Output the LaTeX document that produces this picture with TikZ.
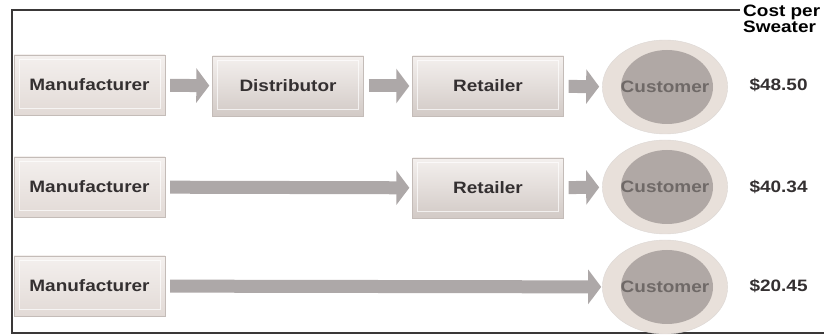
\documentclass[tikz,border=0pt]{standalone}
\usepackage{fontspec}
\setmainfont{Liberation Sans}[FakeStretch=1.15]
\usetikzlibrary{shapes.geometric,arrows.meta}
\definecolor{boxlight}{HTML}{F4F0EE}
\definecolor{boxmid}{HTML}{E2DAD6}
\definecolor{boxdark}{HTML}{D2CAC6}
\definecolor{boxedge}{HTML}{C4BCB8}
\definecolor{ringfill}{HTML}{E8E0DA}
\definecolor{corefill}{HTML}{B0A8A5}
\definecolor{flowgray}{HTML}{ADA8A8}
\definecolor{labeltext}{HTML}{343031}
\definecolor{custtext}{HTML}{6F6967}
\definecolor{framegray}{HTML}{3A3838}
\newcommand{\boxfont}{\fontsize{16.5}{14}\selectfont\bfseries}

\begin{document}
\begin{tikzpicture}[x=1pt, y=-1pt,
chainbox/.style={rectangle, minimum width=151pt, minimum height=60pt, inner sep=0pt, draw=boxedge, top color=boxlight, bottom color=#1, font=\boxfont, text=labeltext,
  path picture={\draw[white, line width=1pt, opacity=.7] ([shift={(5pt,-5pt)}]path picture bounding box.north west) rectangle ([shift={(-5pt,6pt)}]path picture bounding box.south east);}},
chainbox/.default=boxmid,
custnode/.style={ellipse, minimum width=112pt, minimum height=94pt, inner sep=0pt, fill=ringfill, draw=boxedge!60, font=\boxfont, text=custtext,
  path picture={\fill[corefill] ([xshift=2pt]path picture bounding box.center) ellipse [x radius=46pt, y radius=37pt];}},
flow/.style={color=flowgray, line width=13pt, -{Triangle[length=13pt,width=34pt,color=flowgray,fill=flowgray]}, shorten <=5pt, shorten >=3pt},
price/.style={anchor=west, font=\boxfont, text=labeltext}
]
    \useasboundingbox (0,0) rectangle (824,336);
    \clip (0,0) rectangle (824,336);

    % frame
    \draw[framegray, line width=1.5pt] (740,10) -- (12,10) -- (12,333) -- (824,333);

    \node [anchor=north west, align=left, font=\boxfont, text=black, inner sep=0pt] (hdr) at (743,5) {Cost per\\Sweater};

    % row 1
    \node [chainbox] (m1) at (89.5,85) {Manufacturer};
    \node [chainbox=boxdark] (d1) at (288,86) {Distributor};
    \node [chainbox=boxdark] (r1) at (488,86) {Retailer};
    \node [custnode] (c1) at (665,87) {Customer};
    \node [price] (p1) at (746,85) {\$48.50};

    % row 2
    \node [chainbox] (m2) at (89.5,187) {Manufacturer};
    \node [chainbox=boxdark] (r2) at (488,188) {Retailer};
    \node [custnode] (c2) at (665,187) {Customer};
    \node [price] (p2) at (746,187) {\$40.34};

    % row 3
    \node [chainbox] (m3) at (89.5,286) {Manufacturer};
    \node [custnode] (c3) at (665,287) {Customer};
    \node [price] (p3) at (746,286) {\$20.45};

    \draw[flow] (m1) edge (d1);
    \draw[flow] (d1) edge (r1);
    \draw[flow] (r1) edge (c1);
    \draw[flow] (m2) edge (r2);
    \draw[flow] (r2) edge (c2);
    \draw[flow, shorten >=1pt] (m3) edge (c3);

\end{tikzpicture}
\end{document}
